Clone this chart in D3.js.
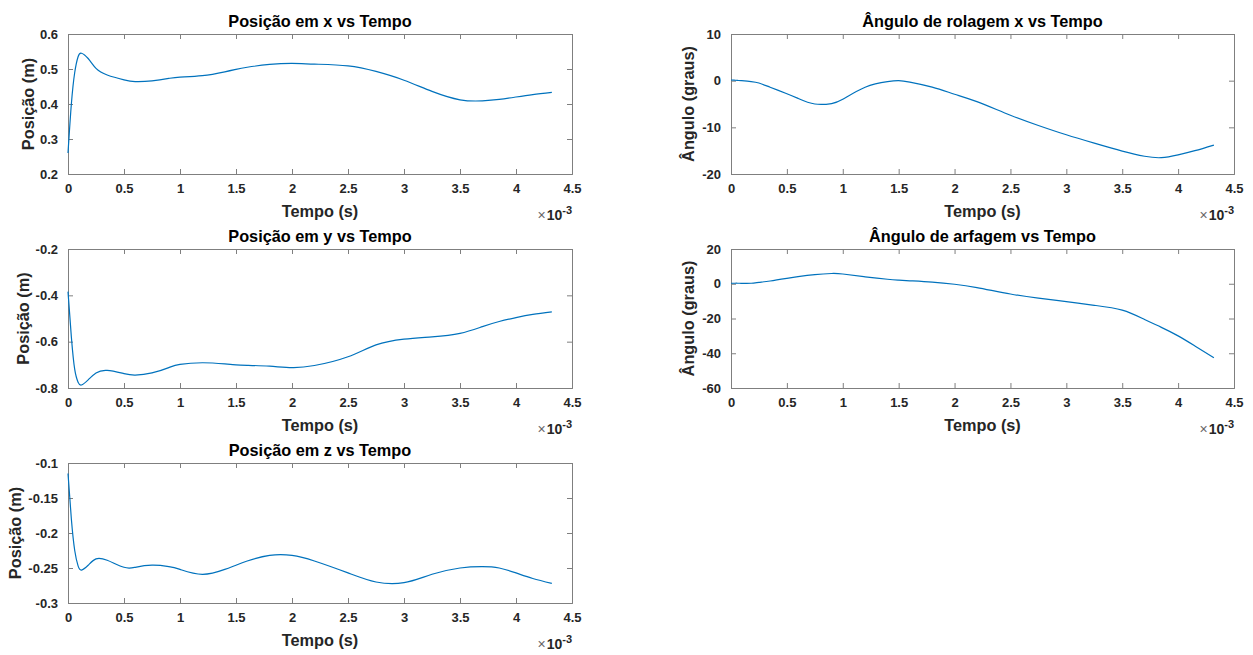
<!DOCTYPE html>
<html>
<head>
<meta charset="utf-8">
<script src="https://cdn.jsdelivr.net/npm/d3@7"></script>
<style>
  body { margin: 0; background: #fff; }
  text { font-family: "Liberation Sans", Arial, Helvetica, sans-serif; }
</style>
</head>
<body>
<svg id="chart" width="1253" height="655"></svg>
<script>
// tempo em unidades de 1e-3 s
const tempo = [0, 0.03, 0.06, 0.09, 0.12, 0.18, 0.25, 0.35, 0.5, 0.6, 0.75, 0.9, 1.0, 1.2, 1.4, 1.5, 1.6, 1.8, 2.0, 2.2, 2.5, 2.75, 3.0, 3.25, 3.5, 3.7, 3.85, 4.0, 4.15, 4.32];

const posX = [0.26, 0.40, 0.49, 0.535, 0.545, 0.53, 0.502, 0.483, 0.469, 0.464, 0.466, 0.473, 0.477, 0.481, 0.492, 0.499, 0.505, 0.513, 0.516, 0.514, 0.509, 0.493, 0.468, 0.436, 0.412, 0.409, 0.413, 0.42, 0.427, 0.433];
const posY = [-0.384, -0.58, -0.72, -0.775, -0.787, -0.765, -0.735, -0.724, -0.738, -0.744, -0.735, -0.712, -0.698, -0.691, -0.696, -0.70, -0.702, -0.706, -0.712, -0.703, -0.665, -0.614, -0.589, -0.579, -0.564, -0.535, -0.513, -0.496, -0.482, -0.471];
const posZ = [-0.115, -0.18, -0.225, -0.247, -0.253, -0.246, -0.237, -0.239, -0.249, -0.249, -0.246, -0.248, -0.252, -0.259, -0.252, -0.246, -0.240, -0.232, -0.232, -0.240, -0.257, -0.270, -0.271, -0.259, -0.250, -0.248, -0.250, -0.257, -0.265, -0.272];
const rolagem = [0.14, 0.1, 0.05, 0.0, -0.05, -0.2, -0.5, -1.4, -2.8, -3.8, -5.0, -4.9, -4.0, -1.4, -0.2, 0.0, -0.3, -1.4, -2.9, -4.5, -7.4, -9.6, -11.6, -13.4, -15.1, -16.2, -16.5, -15.9, -15.0, -13.8];
const arfagem = [0.3, 0.3, 0.3, 0.25, 0.25, 0.3, 0.8, 1.6, 3.1, 4.1, 5.3, 5.9, 5.6, 4.0, 2.6, 2.1, 1.7, 0.9, -0.3, -2.2, -5.9, -8.3, -10.3, -12.4, -15.2, -20.6, -25.1, -30.0, -35.8, -42.6];

const xTicks = [0, 0.5, 1, 1.5, 2, 2.5, 3, 3.5, 4, 4.5];

const panels = [
  {title: 'Posição em x vs Tempo', ylabel: 'Posição (m)', values: posX, yDomain: [0.2, 0.6], yTicks: [0.2, 0.3, 0.4, 0.5, 0.6], x: 68, y: 34, w: 504, h: 140, yl: -40},
  {title: 'Posição em y vs Tempo', ylabel: 'Posição (m)', values: posY, yDomain: [-0.8, -0.2], yTicks: [-0.8, -0.6, -0.4, -0.2], x: 68, y: 249, w: 504, h: 139, yl: -45},
  {title: 'Posição em z vs Tempo', ylabel: 'Posição (m)', values: posZ, yDomain: [-0.3, -0.1], yTicks: [-0.3, -0.25, -0.2, -0.15, -0.1], x: 68, y: 463, w: 504, h: 140, yl: -53},
  {title: 'Ângulo de rolagem x vs Tempo', ylabel: 'Ângulo (graus)', values: rolagem, yDomain: [-20, 10], yTicks: [-20, -10, 0, 10], x: 731, y: 34, w: 503, h: 140, yl: -43},
  {title: 'Ângulo de arfagem vs Tempo', ylabel: 'Ângulo (graus)', values: arfagem, yDomain: [-60, 20], yTicks: [-60, -40, -20, 0, 20], x: 731, y: 249, w: 503, h: 139, yl: -43}
];

const svg = d3.select('#chart');
const textColor = '#262626';
const axisColor = '#7f7f7f';

panels.forEach(p => {
  const g = svg.append('g').attr('transform', `translate(${p.x},${p.y})`);
  const x = d3.scaleLinear().domain([0, 4.5]).range([0, p.w]);
  const y = d3.scaleLinear().domain(p.yDomain).range([p.h, 0]);

  const fmt = d => String(d);

  // eixos com ticks para dentro, nos 4 lados
  const bottom = g.append('g').attr('transform', `translate(0,${p.h})`)
    .call(d3.axisBottom(x).tickValues(xTicks).tickSize(-5).tickPadding(10).tickFormat(fmt));
  const top = g.append('g')
    .call(d3.axisTop(x).tickValues(xTicks).tickSize(-5).tickFormat(''));
  const left = g.append('g')
    .call(d3.axisLeft(y).tickValues(p.yTicks).tickSize(-5).tickPadding(10).tickFormat(fmt));
  const right = g.append('g').attr('transform', `translate(${p.w},0)`)
    .call(d3.axisRight(y).tickValues(p.yTicks).tickSize(-5).tickFormat(''));

  [bottom, top, left, right].forEach(a => {
    a.select('.domain').attr('stroke', axisColor).attr('stroke-width', 1);
    a.selectAll('.tick line').attr('stroke', axisColor);
    a.selectAll('.tick text')
      .attr('fill', textColor)
      .attr('font-size', 13)
      .attr('font-weight', 'bold')
      .attr('font-family', '"Liberation Sans", Arial, sans-serif');
  });

  const line = d3.line()
    .x((d, i) => x(tempo[i]))
    .y(d => y(d))
    .curve(d3.curveNatural);

  g.append('path')
    .datum(p.values)
    .attr('fill', 'none')
    .attr('stroke', '#0072BD')
    .attr('stroke-width', 1.2)
    .attr('d', line);

  g.append('text')
    .attr('x', p.w / 2)
    .attr('y', -7)
    .attr('text-anchor', 'middle')
    .attr('font-size', 16.3)
    .attr('font-weight', 'bold')
    .attr('fill', '#000')
    .text(p.title);

  g.append('text')
    .attr('x', p.w / 2)
    .attr('y', p.h + 43)
    .attr('text-anchor', 'middle')
    .attr('font-size', 16.3)
    .attr('font-weight', 'bold')
    .attr('fill', textColor)
    .text('Tempo (s)');

  g.append('text')
    .attr('transform', `translate(${p.yl},${p.h / 2}) rotate(-90)`)
    .attr('dy', '0.35em')
    .attr('text-anchor', 'middle')
    .attr('font-size', 16.3)
    .attr('font-weight', 'bold')
    .attr('fill', textColor)
    .text(p.ylabel);

  const mult = g.append('text')
    .attr('x', p.w)
    .attr('y', p.h + 46)
    .attr('text-anchor', 'end')
    .attr('fill', textColor)
    .attr('font-size', 14);
  mult.append('tspan').attr('font-size', 14).attr('fill', '#666').text('×');
  mult.append('tspan').attr('font-weight', 'bold').attr('dx', 1).text('10');
  mult.append('tspan').attr('font-size', 11).attr('font-weight', 'bold').attr('dy', -6).text('-3');
});
</script>
</body>
</html>
